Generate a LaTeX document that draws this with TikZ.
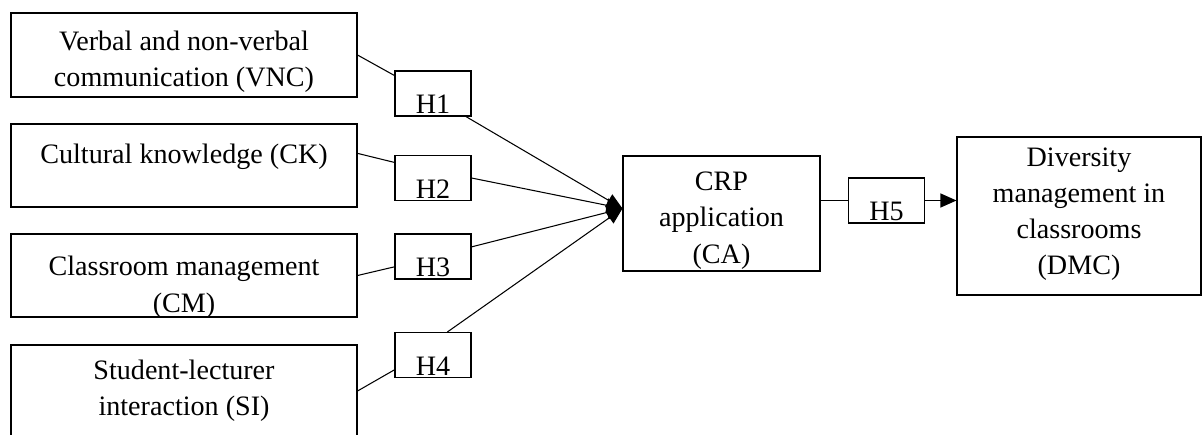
\documentclass[tikz,border=0pt]{standalone}
\usepackage{fontspec}
\setmainfont{Liberation Serif}
\usetikzlibrary{arrows.meta}
\begin{document}
\begin{tikzpicture}[line width=0.6pt,
	box/.style={draw,align=center,inner sep=0pt,font=\fontsize{16}{20.5}\selectfont},
	hyp/.style={draw,minimum width=1.52cm,minimum height=0.9cm,text height=0.8cm,text depth=0pt,inner sep=0pt,font=\fontsize{16}{20.5}\selectfont},
	arr/.style={-{Triangle[length=0.32cm,width=0.28cm]}}]
		\useasboundingbox(0,0)rectangle(24.08,8.68);
		\clip(0,0)rectangle(24.08,8.68);
		% factors
		\node(vnc)at(3.68,7.58)[box,minimum width=6.92cm,minimum height=1.68cm,text height=1.39cm]{Verbal and non-verbal\\communication (VNC)};
		\node(ck)at(3.68,5.37)[box,minimum width=6.92cm,minimum height=1.66cm,text depth=0.49cm]{Cultural knowledge (CK)};
		\node(cm)at(3.68,3.17)[box,minimum width=6.92cm,minimum height=1.66cm,text height=1.56cm,text depth=0.1cm]{Classroom management\\(CM)};
		\node(si)at(3.68,0.86)[box,minimum width=6.92cm,minimum height=1.84cm]{Student-lecturer\\interaction (SI)};
		% hypotheses
		\node(h1)at(8.66,6.81)[hyp]{H1};
		\node(h2)at(8.66,5.12)[hyp]{H2};
		\node(h3)at(8.66,3.55)[hyp]{H3};
		\node(h4)at(8.66,1.58)[hyp]{H4};
		\node(h5)at(17.73,4.67)[hyp]{H5};
		% outcomes
		\node(ca)at(14.43,4.41)[box,minimum width=3.94cm,minimum height=2.3cm,text height=2.1cm]{CRP\\application\\(CA)};
		\node(dmc)at(21.58,4.36)[box,minimum width=4.88cm,minimum height=3.16cm,text depth=0.2cm]{Diversity\\management in\\classrooms\\(DMC)};
		\coordinate(in)at([yshift=0.1cm]ca.west);
		\draw(vnc.east)--(h1.155);
		\draw(ck.4)--(h2.158);
		\draw(cm.east)--(h3.195);
		\draw(si.east)--(h4.201);
		\draw[arr](h1.-35)--(in);
		\draw[arr](h2.east)--(in);
		\draw[arr](h3.14)--(in);
		\draw[arr](h4.58)--(in);
		\draw(ca.east|-h5.west)--(h5.west);
		\draw[arr](h5.east)--(h5.east-|dmc.west);
	\end{tikzpicture}
\end{document}
